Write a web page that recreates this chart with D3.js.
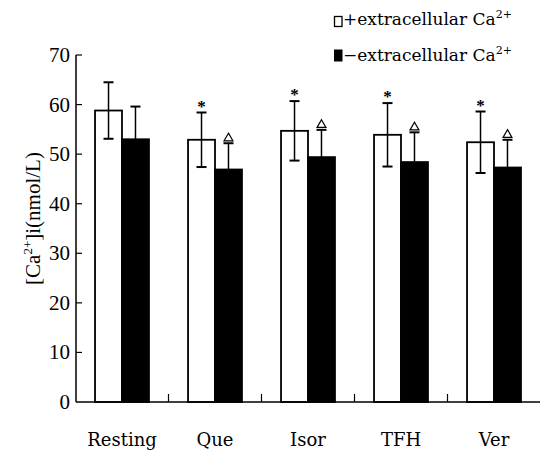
<!DOCTYPE html>
<html>
<head>
<meta charset="utf-8">
<script src="https://cdn.jsdelivr.net/npm/d3@7"></script>
<style>
  body { margin: 0; background: #fff; }
  svg { display: block; }
</style>
</head>
<body>
<div id="chart"></div>
<script>
// values (mean, SD)
const categories = ["Resting", "Que", "Isor", "TFH", "Ver"];
const series = ["plus", "minus"];
const plusCa = [58.8, 52.9, 54.7, 53.9, 52.4];
const plusSD = [5.7, 5.5, 6.0, 6.4, 6.2];
const minusCa = [53.0, 46.9, 49.4, 48.4, 47.3];
const minusSD = [6.6, 5.3, 5.5, 6.0, 5.6];
const plusStar = [false, true, true, true, true];
const minusTri = [false, true, true, true, true];
const yTicks = [0, 10, 20, 30, 40, 50, 60, 70];

var width = 540, height = 452;
var serif = "'Liberation Serif', 'Times New Roman', serif";
var wide = "'DejaVu Serif', serif";

var svg = d3.select("#chart").append("svg")
  .attr("width", width)
  .attr("height", height);

var x0 = d3.scaleBand()
  .domain(categories)
  .range([75.5, 540.5])
  .paddingInner(0.42)
  .paddingOuter(0.21);
var x1 = d3.scaleBand()
  .domain(series)
  .range([0, x0.bandwidth()]);
var y = d3.scaleLinear().domain([0, 70]).range([402, 55]);

var rows = categories.map(function(c, i) {
  return [
    { cat: c, key: "plus", v: plusCa[i], sd: plusSD[i], mark: plusStar[i] },
    { cat: c, key: "minus", v: minusCa[i], sd: minusSD[i], mark: minusTri[i] }
  ];
});
var flat = [].concat.apply([], rows);

// bars
svg.append("g").selectAll("rect")
  .data(flat)
  .enter()
  .append("rect")
  .attr("x", d => x0(d.cat) + x1(d.key))
  .attr("y", d => y(d.v))
  .attr("width", x1.bandwidth())
  .attr("height", d => y(0) - y(d.v))
  .attr("fill", d => d.key == "plus" ? "#fff" : "#000")
  .attr("stroke", "#000")
  .attr("stroke-width", 1.8);

// error bars
var eb = svg.append("g").selectAll("g")
  .data(flat)
  .enter()
  .append("g")
  .attr("transform", d => "translate(" + (x0(d.cat) + x1(d.key) + x1.bandwidth() / 2) + ",0)");
eb.append("line")
  .attr("y1", d => y(d.v + d.sd))
  .attr("y2", d => y(d.v - d.sd))
  .attr("stroke", "#000")
  .attr("stroke-width", 1.5);
eb.append("line")
  .attr("x1", -5).attr("x2", 5)
  .attr("y1", d => y(d.v + d.sd))
  .attr("y2", d => y(d.v + d.sd))
  .attr("stroke", "#000")
  .attr("stroke-width", 2);
eb.filter(d => d.key == "plus").append("line")
  .attr("x1", -5).attr("x2", 5)
  .attr("y1", d => y(d.v - d.sd))
  .attr("y2", d => y(d.v - d.sd))
  .attr("stroke", "#000")
  .attr("stroke-width", 2);

// significance marks
eb.filter(d => d.key == "plus" && d.mark).append("text")
  .attr("y", d => y(d.v + d.sd) - 1)
  .attr("text-anchor", "middle")
  .style("font-family", serif)
  .style("font-size", "17px")
  .style("font-weight", "bold")
  .text("*");
eb.filter(d => d.key == "minus" && d.mark).append("path")
  .attr("d", d3.symbol().type(d3.symbolTriangle).size(34))
  .attr("transform", d => "translate(0," + (y(d.v + d.sd) - 5) + ")")
  .attr("fill", "#fff")
  .attr("stroke", "#000")
  .attr("stroke-width", 1.2);

// y axis
var ya = svg.append("g");
ya.append("line")
  .attr("x1", 76).attr("x2", 76)
  .attr("y1", y(70)).attr("y2", y(0))
  .attr("stroke", "#000").attr("stroke-width", 1.5);
ya.selectAll(".tick")
  .data(yTicks.filter(t => t > 0))
  .enter()
  .append("line")
  .attr("x1", 76).attr("x2", 82)
  .attr("y1", d => y(d)).attr("y2", d => y(d))
  .attr("stroke", "#000").attr("stroke-width", 1.2);
ya.selectAll("text")
  .data(yTicks)
  .enter()
  .append("text")
  .attr("x", 70)
  .attr("y", d => y(d) + 7)
  .attr("text-anchor", "end")
  .style("font-family", serif)
  .style("font-size", "21px")
  .text(d => d);

// x axis
var xa = svg.append("g");
xa.append("line")
  .attr("x1", 76).attr("x2", 540)
  .attr("y1", y(0)).attr("y2", y(0))
  .attr("stroke", "#000").attr("stroke-width", 1.5);
xa.selectAll(".tick")
  .data(categories.slice(1))
  .enter()
  .append("line")
  .attr("x1", d => x0(d) - x0.step() * x0.paddingInner() / 2)
  .attr("x2", d => x0(d) - x0.step() * x0.paddingInner() / 2)
  .attr("y1", y(0)).attr("y2", y(0) - 8)
  .attr("stroke", "#000").attr("stroke-width", 1.2);
xa.selectAll("text")
  .data(categories)
  .enter()
  .append("text")
  .attr("x", d => x0(d) + x0.bandwidth() / 2)
  .attr("y", 446)
  .attr("text-anchor", "middle")
  .style("font-family", wide)
  .style("font-size", "18px")
  .text(d => d);

// y title
var yt = svg.append("text")
  .attr("transform", "translate(40," + (y(35) - 10) + ") rotate(-90)")
  .attr("text-anchor", "middle")
  .style("font-family", serif)
  .style("font-size", "21px");
yt.append("tspan").text("[Ca");
yt.append("tspan").attr("dy", -8).style("font-size", "13px").text("2+");
yt.append("tspan").attr("dy", 8).text("]i(nmol/L)");

// legend
var lg = svg.append("g");
lg.append("rect")
  .attr("x", 334.5).attr("y", 16.5).attr("width", 7.5).attr("height", 10)
  .attr("fill", "#fff").attr("stroke", "#000").attr("stroke-width", 1.3);
lg.append("rect")
  .attr("x", 334).attr("y", 49.5).attr("width", 8.5).attr("height", 12)
  .attr("fill", "#000");
[["+extracellular Ca", 25], ["\u2212extracellular Ca", 61]].forEach(function(r) {
  var t = lg.append("text")
    .attr("x", 343)
    .attr("y", r[1])
    .style("font-family", wide)
    .style("font-size", "17px");
  t.append("tspan").text(r[0]);
  t.append("tspan").attr("dy", -7).style("font-size", "11px").text("2+");
});
</script>
</body>
</html>
